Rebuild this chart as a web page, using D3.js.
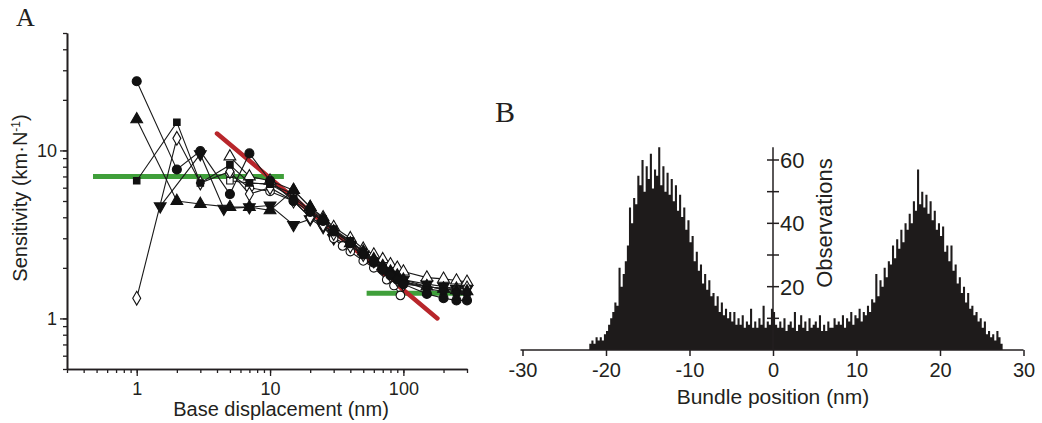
<!DOCTYPE html>
<html>
<head>
<meta charset="utf-8">
<script src="https://cdn.jsdelivr.net/npm/d3@7"></script>
<style>
  body { margin: 0; background: #fff; }
  svg text { font-family: "Liberation Sans", Arial, Helvetica, sans-serif; fill: #231f20; }
  .panel-letter { font-family: "Liberation Serif", "DejaVu Serif", serif; }
</style>
</head>
<body>
<div id="container"></div>
<script>
var WIDTH = 1042,
	HEIGHT = 423;

// ---- panel A data: sensitivity (km/N) vs base displacement (nm) ----
var dispX = [1, 2, 3, 5, 7, 10, 15, 20, 25, 30, 40, 50, 60, 70, 80, 90, 100, 150, 200, 250, 300];
var sensFilledCircle = [25.8, 7.7, 9.9, 5.5, 9.6, 6.6, 5.0, 4.3, 3.8, 3.3, 2.8, 2.4, 2.15, 1.95, 1.8, 1.7, 1.6, 1.4, 1.32, 1.28, 1.28];
var sensFilledSquare = [6.6, 14.7, 6.4, 8.2, 6.4, 6.3, 5.2, 4.4, 3.9, 3.4, 2.9, 2.5, 2.2, 2.0, 1.85, 1.75, 1.65, 1.5, 1.45, 1.42, 1.42];
var sensFilledUp = [15.3, 5.0, 4.8, 4.6, 4.6, 4.4, 5.8, 4.6, 3.9, 3.3, 2.8, 2.5, 2.25, 2.05, 1.9, 1.8, 1.7, 1.55, 1.5, 1.47, 1.45];
var sensOpenDiamond = [1.32, 11.8, 6.4, 7.5, 5.5, 6.0, 5.0, 4.0, 3.6, 3.2, 2.7, 2.4, 2.2, 2.0, 1.8, 1.7, 1.6, 1.55, 1.5, 1.5, 1.52];

var downX = [1.5, 3, 4.5, 7, 10, 15, 20, 25, 30, 40, 50, 60, 70, 80, 90, 100, 150, 200, 250, 300];
var sensFilledDown = [4.65, 9.5, 4.5, 4.6, 4.7, 3.6, 3.9, 3.5, 3.0, 2.7, 2.4, 2.2, 2.0, 1.9, 1.8, 1.7, 1.6, 1.55, 1.5, 1.5];

var openCircleX = [5, 7, 10, 15, 20, 25, 30, 35, 40, 50, 60, 75, 85, 95];
var sensOpenCircle = [7.3, 6.0, 5.7, 5.0, 4.0, 3.6, 3.0, 2.7, 2.5, 2.2, 2.0, 1.7, 1.57, 1.37];

var openX = [5, 7, 10, 15, 20, 25, 30, 40, 50, 60, 70, 80, 90, 100, 150, 200, 250, 300];
var sensOpenSquare = [6.6, 6.4, 6.3, 5.5, 4.3, 3.8, 3.3, 2.9, 2.5, 2.2, 2.0, 1.85, 1.75, 1.65, 1.55, 1.5, 1.45, 1.45];
var sensOpenUp = [9.2, 7.0, 6.6, 5.8, 4.6, 4.0, 3.5, 3.0, 2.6, 2.4, 2.25, 2.1, 2.0, 1.9, 1.75, 1.72, 1.68, 1.65];

// fitted lines
var slopeFitX = [4, 180], slopeFitY = [12.6, 1.0];
var lowPlateauX = [0.47, 12.7], lowPlateauY = [7.0, 7.0];
var highPlateauX = [53, 300], highPlateauY = [1.41, 1.41];

var xTicksA = [1, 10, 100];
var yTicksA = [1, 10];

// ---- panel B data: bundle position histogram, 0.25 nm bins from -22 nm ----
var histStart = -22, histBinWidth = 0.25;
var histCounts = [
	2, 3, 2, 4,   3, 4, 3, 5,   6, 8, 10, 12,   15, 14, 26, 20,
	24, 28, 33, 45,   40, 48, 46, 55,   52, 60, 50, 58,   54, 62, 51, 57,
	55, 64, 52, 58,   50, 56, 49, 54,   47, 52, 44, 49,   42, 45, 38, 41,
	34, 36, 28, 31,   25, 27, 21, 24,   19, 22, 17, 18,   14, 17, 12, 15,
	11, 13, 10, 12,   9, 12, 8, 10,   8, 11, 7, 9,   8, 13, 7, 9,
	7, 10, 8, 14,   7, 9, 8, 13,   12, 8, 7, 9,   7, 10, 6, 8,
	9, 7, 12, 6,   8, 11, 7, 9,   6, 10, 7, 8,   9, 7, 11, 6,
	8, 6, 9, 7,   7, 10, 8, 9,   8, 11, 7, 10,   9, 12, 8, 11,
	10, 13, 9, 12,   11, 14, 12, 16,   15, 24, 17, 22,   20, 26, 23, 28,
	27, 33, 29, 35,   32, 38, 34, 40,   38, 43, 40, 47,   44, 57, 46, 50,
	45, 49, 43, 47,   41, 44, 38, 40,   36, 39, 31, 33,   28, 33, 25, 27,
	21, 23, 18, 20,   15, 18, 13, 14,   11, 12, 9, 10,   7, 9, 5, 6,
	4, 5, 3, 6,   4, 2
];
var xTicksB = [-30, -20, -10, 0, 10, 20, 30];
var yTicksB = [10, 20, 30, 40, 50, 60];
var yLabelsB = [20, 40, 60];

// ---- scales ----
var xA = d3.scaleLog().domain([0.3, 300]).range([67, 467]);
var yA = d3.scaleLog().domain([0.5, 50]).range([369, 33]);
var xB = d3.scaleLinear().domain([-30, 30]).range([522.5, 1023.5]);
var yB = d3.scaleLinear().domain([0, 60]).range([350, 160]);

var translate = function (x, y) {
	return "translate(" + x + "," + y + ")";
};

function logMinors(scale) {
	var d = scale.domain(), out = [];
	for (var e = -2; e <= 3; e++) {
		for (var m = 1; m <= 9; m++) {
			var v = m * Math.pow(10, e);
			if (v >= d[0] - 1e-9 && v <= d[1] + 1e-9) out.push(v);
		}
	}
	return out;
}

function drawPanelA(svg) {
	var g = svg.append('g');

	// minor ticks
	g.append('g')
		.attr('transform', translate(0, 369))
		.call(d3.axisBottom(xA).tickValues(logMinors(xA)).tickSize(4).tickSizeOuter(0).tickFormat(''));
	g.append('g')
		.attr('transform', translate(67, 0))
		.call(d3.axisLeft(yA).tickValues(logMinors(yA)).tickSize(4).tickSizeOuter(0).tickFormat(''));
	// major ticks
	var xAx = g.append('g')
		.attr('transform', translate(0, 369))
		.call(d3.axisBottom(xA).tickValues(xTicksA).tickSize(7).tickSizeOuter(0).tickPadding(6).tickFormat(String));
	var yAx = g.append('g')
		.attr('transform', translate(67, 0))
		.call(d3.axisLeft(yA).tickValues(yTicksA).tickSize(7).tickSizeOuter(0).tickPadding(3).tickFormat(String));

	g.selectAll('.domain').attr('stroke', '#231f20').attr('stroke-width', 1.6);
	g.selectAll('.tick line').attr('stroke', '#231f20').attr('stroke-width', 1.3);
	xAx.selectAll('text').attr('font-size', 18).attr('font-family', null);
	yAx.selectAll('text').attr('font-size', 18).attr('font-family', null);

	// axis titles
	g.append('text')
		.attr('x', 281).attr('y', 416)
		.attr('text-anchor', 'middle')
		.attr('font-size', 20)
		.text('Base displacement (nm)');
	var yt = g.append('text')
		.attr('transform', translate(27, 198) + ' rotate(-90)')
		.attr('text-anchor', 'middle')
		.attr('font-size', 20);
	yt.append('tspan').text('Sensitivity (km\u00b7N');
	yt.append('tspan').attr('font-size', 12).attr('dy', -7).text('-1');
	yt.append('tspan').attr('dy', 7).text(')');

	// fitted lines (under the data)
	var line = d3.line().x(function (d) { return xA(d[0]); }).y(function (d) { return yA(d[1]); });
	g.append('path')
		.attr('d', line(d3.zip(lowPlateauX, lowPlateauY)))
		.attr('stroke', '#3f9f3a').attr('stroke-width', 5).attr('fill', 'none');
	g.append('path')
		.attr('d', line(d3.zip(highPlateauX, highPlateauY)))
		.attr('stroke', '#3f9f3a').attr('stroke-width', 5).attr('fill', 'none');
	g.append('path')
		.attr('d', line(d3.zip(slopeFitX, slopeFitY)))
		.attr('stroke', '#b8262b').attr('stroke-width', 4.5).attr('fill', 'none')
		.attr('stroke-linecap', 'round');

	var series = [
		{ x: downX, y: sensFilledDown, sym: d3.symbolTriangle, rot: 180, size: 60, fill: '#111' },
		{ x: openX, y: sensOpenUp, sym: d3.symbolTriangle, rot: 0, size: 60, fill: '#fff' },
		{ x: openX, y: sensOpenSquare, sym: d3.symbolSquare, rot: 0, size: 42, fill: '#fff' },
		{ x: openCircleX, y: sensOpenCircle, sym: d3.symbolCircle, rot: 0, size: 58, fill: '#fff' },
		{ x: dispX, y: sensOpenDiamond, sym: d3.symbolDiamond, rot: 0, size: 55, fill: '#fff' },
		{ x: dispX, y: sensFilledUp, sym: d3.symbolTriangle, rot: 0, size: 60, fill: '#111' },
		{ x: dispX, y: sensFilledSquare, sym: d3.symbolSquare, rot: 0, size: 42, fill: '#111' },
		{ x: dispX, y: sensFilledCircle, sym: d3.symbolCircle, rot: 0, size: 64, fill: '#111' }
	];

	series.forEach(function (s) {
		var pts = d3.zip(s.x, s.y);
		g.append('path')
			.attr('d', line(pts))
			.attr('stroke', '#1a1a1a').attr('stroke-width', 1.1).attr('fill', 'none');
		g.selectAll(null).data(pts).enter()
			.append('path')
			.attr('d', d3.symbol().type(s.sym).size(s.size)())
			.attr('transform', function (d) { return translate(xA(d[0]), yA(d[1])) + ' rotate(' + s.rot + ')'; })
			.attr('fill', s.fill)
			.attr('stroke', '#111').attr('stroke-width', 1.1);
	});

	svg.append('text')
		.attr('class', 'panel-letter')
		.attr('x', 16).attr('y', 26)
		.attr('font-size', 26)
		.text('A');
}

function drawPanelB(svg) {
	var g = svg.append('g');

	// histogram as a single stepped area
	var pts = histCounts.map(function (c, i) { return [histStart + i * histBinWidth, c]; });
	pts.push([histStart + histCounts.length * histBinWidth, 0]);
	var area = d3.area()
		.x(function (d) { return xB(d[0]); })
		.y0(yB(0))
		.y1(function (d) { return yB(d[1]); })
		.curve(d3.curveStepAfter);
	g.append('path')
		.attr('d', area(pts))
		.attr('fill', '#1e1b1b');

	// x axis
	var xAx = g.append('g')
		.attr('transform', translate(0, 350))
		.call(d3.axisBottom(xB).tickValues(xTicksB).tickSize(6).tickSizeOuter(0).tickPadding(7).tickFormat(String));
	xAx.select('.domain').attr('d', 'M' + (xB(-30) - 2) + ',0H' + xB(30));
	xAx.selectAll('text').attr('font-size', 20).attr('font-family', null);

	// y axis: vertical line at x = 0 with crossing ticks
	var x0 = xB(0);
	g.append('line')
		.attr('x1', x0).attr('x2', x0)
		.attr('y1', yB(0)).attr('y2', yB(64));
	g.selectAll('.ytick').data(yTicksB).enter()
		.append('line')
		.attr('class', 'ytick')
		.attr('x1', x0 - 6).attr('x2', x0 + 6)
		.attr('y1', function (d) { return yB(d); })
		.attr('y2', function (d) { return yB(d); });
	g.selectAll('.ylab').data(yLabelsB).enter()
		.append('text')
		.attr('class', 'ylab')
		.attr('x', x0 + 7)
		.attr('y', function (d) { return yB(d); })
		.attr('dy', '0.36em')
		.attr('font-size', 22)
		.text(function (d) { return d; });

	g.selectAll('.domain').attr('stroke', '#231f20').attr('stroke-width', 1.6);
	g.selectAll('line').attr('stroke', '#231f20').attr('stroke-width', 1.5);

	g.append('text')
		.attr('transform', translate(832, 223) + ' rotate(-90)')
		.attr('text-anchor', 'middle')
		.attr('font-size', 22)
		.text('Observations');
	g.append('text')
		.attr('x', xB(0)).attr('y', 404)
		.attr('text-anchor', 'middle')
		.attr('font-size', 21)
		.text('Bundle position (nm)');

	svg.append('text')
		.attr('class', 'panel-letter')
		.attr('x', 495).attr('y', 122)
		.attr('font-size', 30)
		.text('B');
}

function visualize() {
	var svg = d3.select('#container')
		.append('svg')
		.attr('width', WIDTH)
		.attr('height', HEIGHT);
	drawPanelA(svg);
	drawPanelB(svg);
}

window.onload = visualize;
</script>
</body>
</html>
